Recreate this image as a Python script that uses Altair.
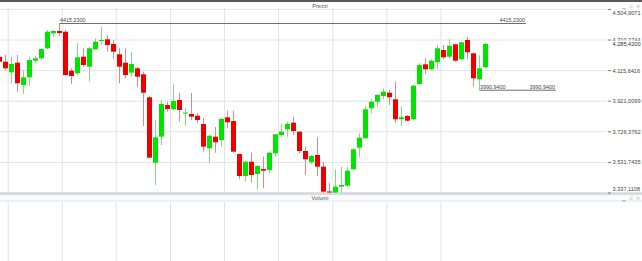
import altair as alt
import pandas as pd

# ---------------- data ----------------
opens = [4204.1, 4172.3, 4104.8, 4165.9, 4024.1, 4073.0, 4178.6, 4193.9, 4257.5, 4352.9,
         4367.5, 4363.1, 4115.0, 4098.5, 4204.1, 4140.5, 4251.2, 4303.9, 4314.8, 4284.9,
         4219.4, 4165.9, 4102.3, 4130.3, 4092.2, 3945.9, 3529.9, 3695.3, 3896.9, 3869.6,
         3928.7, 3842.8, 3839.7, 3828.8, 3776.1, 3621.5, 3695.3, 3674.3, 3818.7, 3795.1,
         3585.3, 3445.3, 3536.3, 3458.1, 3489.9, 3483.5, 3589.7, 3706.1, 3742.4, 3784.3,
         3727.1, 3604.3, 3532.5, 3578.9, 3504.5, 3347.0, 3340.0, 3377.3, 3383.6, 3488.0,
         3625.3, 3685.1, 3875.9, 3917.9, 3954.1, 3975.1, 3933.2, 3806.0, 3826.9, 3806.0,
         4030.4, 4155.8, 4124.0, 4168.5, 4246.7, 4204.1, 4283.0, 4187.6, 4310.3, 4225.7,
         4060.4, 4136.7]
highs = [4221.2, 4214.9, 4204.1, 4214.9, 4119.5, 4204.1, 4208.5, 4257.5, 4373.9, 4373.9,
         4415.23, 4373.9, 4130.3, 4289.3, 4257.5, 4267.7, 4321.1, 4394.9, 4342.1, 4310.3,
         4257.5, 4257.5, 4235.9, 4140.5, 4108.7, 3954.1, 3801.5, 3928.7, 3917.9, 4028.6,
         3975.1, 3877.8, 3973.2, 3846.0, 3814.2, 3706.1, 3757.0, 3814.2, 3860.6, 3860.6,
         3588.0, 3540.0, 3593.5, 3515.3, 3568.1, 3599.9, 3713.0, 3780.5, 3790.7, 3822.5,
         3730.0, 3631.7, 3578.9, 3691.5, 3536.3, 3402.7, 3488.0, 3504.5, 3504.5, 3621.5,
         3716.9, 3890.5, 3933.2, 3966.9, 4003.1, 3992.3, 4045.1, 3890.5, 3833.3, 4024.1,
         4162.1, 4193.9, 4187.6, 4278.5, 4278.5, 4314.8, 4286.0, 4299.5, 4331.3, 4229.5,
         4214.9, 4293.1]
lows = [4164.0, 4119.5, 4034.9, 3981.5, 3966.8, 4017.7, 4165.9, 4183.1, 4251.2, 4331.3,
        4335.7, 4084.5, 4030.4, 4087.7, 4140.5, 4045.1, 4246.7, 4278.5, 4235.9, 4187.6,
        4034.9, 4066.7, 4076.9, 4013.3, 3763.3, 3559.8, 3388.1, 3642.5, 3854.3, 3865.1,
        3790.7, 3763.3, 3801.5, 3782.4, 3599.9, 3526.1, 3593.5, 3631.7, 3748.7, 3593.5,
        3424.4, 3409.1, 3402.7, 3360.8, 3367.1, 3462.5, 3568.1, 3691.5, 3695.3, 3706.1,
        3589.7, 3451.7, 3519.8, 3445.3, 3339.1, 3338.0, 3338.0, 3339.0, 3377.3, 3483.5,
        3564.3, 3680.7, 3844.1, 3886.1, 3933.2, 3896.9, 3784.3, 3763.3, 3793.0, 3801.5,
        4024.1, 4092.2, 4119.5, 4125.9, 4187.6, 4193.9, 4172.3, 4183.1, 4189.4, 4013.3,
        3990.94, 4130.3]
closes = [4172.3, 4130.3, 4157.6, 4034.9, 4073.0, 4183.1, 4193.9, 4253.0, 4363.1, 4367.5,
          4354.8, 4087.7, 4081.3, 4200.3, 4151.3, 4257.5, 4299.5, 4310.3, 4278.5, 4235.9,
          4140.5, 4087.7, 4157.6, 4076.9, 3975.1, 3561.7, 3691.5, 3903.3, 3871.5, 3922.3,
          3865.1, 3849.2, 3822.5, 3801.5, 3631.7, 3701.6, 3659.7, 3807.9, 3786.9, 3599.9,
          3445.3, 3536.3, 3451.7, 3508.9, 3479.0, 3593.5, 3710.6, 3727.1, 3776.1, 3731.5,
          3604.3, 3551.5, 3572.5, 3504.5, 3345.5, 3340.5, 3377.3, 3388.1, 3479.0, 3615.2,
          3688.9, 3869.6, 3917.9, 3960.5, 3981.5, 3945.9, 3806.0, 3818.7, 3797.0, 4019.6,
          4151.3, 4124.0, 4178.6, 4257.5, 4200.3, 4274.0, 4178.6, 4295.7, 4232.1, 4066.7,
          4130.3, 4285.42]

y_ticks = [4504.9071, 4310.2744, 4115.6416, 3921.0099, 3726.3762, 3531.7435, 3337.1108]
y_labels = ["4.504,9071", "4.310,2744", "4.115,6416", "3.921,0099",
            "3.726,3762", "3.531,7435", "3.337,1108"]
last_price = 4285.42
last_label = "4.285,4200"

grid_idx = [1.45, 10.47, 19.45, 28.5, 37.5, 46.5, 55.55, 64.55, 73.58]

max_val, max_label, max_start, max_end = 4415.23, "4415,2300", 10, 87.75
min_val, min_label, min_start, min_end = 3990.94, "3990,9400", 80, 92.75

GREEN, RED = "#00e400", "#ee0000"
GREEN_W, RED_W = "#7fdc7f", "#dc8a8a"
FONT = "Liberation Sans"

# ---------------- tables ----------------
n = len(opens)
candles = pd.DataFrame({"i": list(range(n)), "o": opens, "h": highs, "l": lows, "c": closes})
candles["up"] = candles["c"] >= candles["o"]
candles["bc"] = candles["up"].map({True: GREEN, False: RED})
candles["wc"] = candles["up"].map({True: GREEN_W, False: RED_W})

ticks = pd.DataFrame({"v": y_ticks, "lab": y_labels})
grid = pd.DataFrame({"i": grid_idx})
lines = pd.DataFrame({"v": [max_val, min_val], "s": [max_start, min_start],
                      "e": [max_end, min_end], "lab": [max_label, min_label]})

XS = alt.Scale(domain=[0.5 / 6, 642.5 / 6], nice=False, zero=False)
YS = alt.Scale(domain=[2904.58, 4564.70], nice=False, zero=False)


def X(f):
    return alt.X(f, type="quantitative", scale=XS, axis=None)


def Y(f):
    return alt.Y(f, type="quantitative", scale=YS, axis=None)


# gridlines
vgrid = alt.Chart(grid).mark_rule(color="#e3e3e3", strokeWidth=1).encode(
    x=X("i"), y=alt.value(8), y2=alt.value(261))
hgrid = alt.Chart(ticks).mark_rule(color="#e3e3e3", strokeWidth=1).encode(
    y=Y("v"), x=alt.value(0), x2=alt.value(607))

# candles
wicks = alt.Chart(candles).mark_rule(strokeWidth=1).encode(
    x=X("i"), y=Y("l"), y2=alt.Y2("h"), color=alt.Color("wc:N", scale=None))
bodies = alt.Chart(candles).transform_calculate(
    x1="datum.i - 2.5/6", x2="datum.i + 2.5/6"
).mark_rect().encode(
    x=X("x1"), x2=alt.X2("x2"), y=Y("o"), y2=alt.Y2("c"),
    color=alt.Color("bc:N", scale=None))

# max / min annotation lines
hl = alt.Chart(lines).mark_rule(color="#6e6e6e", strokeWidth=1).encode(
    x=X("s"), x2=alt.X2("e"), y=Y("v"))
hl_l = alt.Chart(lines).mark_text(align="left", baseline="alphabetic", dy=-1.5, dx=0.5,
                                  font=FONT, fontSize=5.4, color="#444").encode(
    x=X("s"), y=Y("v"), text="lab:N")
hl_r = alt.Chart(lines).mark_text(align="right", baseline="alphabetic", dy=-1.5, dx=-1,
                                  font=FONT, fontSize=5.4, color="#444").encode(
    x=X("e"), y=Y("v"), text="lab:N")

# right axis labels
tick_marks = alt.Chart(ticks).mark_rule(color="#777", strokeWidth=1).encode(
    y=Y("v"), x=alt.value(608), x2=alt.value(611))
mid_labels = alt.Chart(ticks).transform_filter(
    "datum.v < 4500 && datum.v > 3400").mark_text(
    align="left", baseline="middle", font=FONT, fontSize=5.6, color="#444").encode(
    x=alt.value(612.5), y=Y("v"), text="lab:N")
top_label = alt.Chart(ticks).transform_filter("datum.v > 4500").mark_text(
    align="left", baseline="middle", dy=3.5, font=FONT, fontSize=5.6, color="#444").encode(
    x=alt.value(612.5), y=Y("v"), text="lab:N")
bot_label = alt.Chart(ticks).transform_filter("datum.v < 3400").mark_text(
    align="left", baseline="middle", dy=-3.5, font=FONT, fontSize=5.6, color="#444").encode(
    x=alt.value(612.5), y=Y("v"), text="lab:N")

last_df = pd.DataFrame({"v": [last_price], "lab": [last_label]})
last_bg = alt.Chart(last_df).mark_rect(color="white").encode(
    y=Y("v"), y2=alt.value(48.5), x=alt.value(611), x2=alt.value(642))
last_bg2 = alt.Chart(last_df).mark_rect(color="white").encode(
    y=alt.value(40.6), y2=alt.value(48.5), x=alt.value(611), x2=alt.value(642))
last_txt = alt.Chart(last_df).mark_text(
    align="left", baseline="middle", font=FONT, fontSize=5.6, color="#333").encode(
    x=alt.value(612.5), y=Y("v"), text="lab:N")

# frame decorations
deco = pd.DataFrame({"t": ["Prezzi", "Volumi"]})
top_bar = alt.Chart(deco).mark_rule(color="#5a5a5a", strokeWidth=2).encode(
    x=alt.value(0), x2=alt.value(642), y=alt.value(1))
sep = alt.Chart(deco).mark_rect(color="#d3dbe3").encode(
    x=alt.value(0), x2=alt.value(642), y=alt.value(192.5), y2=alt.value(195.3))
vol_band = alt.Chart(deco).mark_rect(color="#fbfbfb").encode(
    x=alt.value(0), x2=alt.value(642), y=alt.value(195.3), y2=alt.value(201))
vol_line = alt.Chart(deco).mark_rule(color="#e8edf2", strokeWidth=1).encode(
    x=alt.value(0), x2=alt.value(642), y=alt.value(201))
t_prezzi = alt.Chart(deco).transform_filter("datum.t == 'Prezzi'").mark_text(
    font=FONT, fontSize=5.6, color="#555", baseline="middle").encode(
    x=alt.value(320), y=alt.value(6), text="t:N")
t_volumi = alt.Chart(deco).transform_filter("datum.t == 'Volumi'").mark_text(
    font=FONT, fontSize=5.6, color="#555", baseline="middle").encode(
    x=alt.value(320), y=alt.value(198.3), text="t:N")
icons = pd.DataFrame({"t": ["\u2581", "\u25ab", "\u00d7"], "k": [0, 1, 2]})
icon_top = alt.Chart(icons).mark_text(font="DejaVu Sans", fontSize=5, color="#999",
                                      baseline="middle").encode(
    x=alt.X("k:Q", scale=alt.Scale(domain=[0, 2], range=[624, 638]), axis=None),
    y=alt.value(6), text="t:N")
icon_bot = alt.Chart(icons).mark_text(font="DejaVu Sans", fontSize=5, color="#999",
                                      baseline="middle").encode(
    x=alt.X("k:Q", scale=alt.Scale(domain=[0, 2], range=[624, 638]), axis=None),
    y=alt.value(198.3), text="t:N")

main = alt.layer(vgrid, hgrid, sep, vol_band, vol_line, wicks, bodies, hl, hl_l, hl_r,
                 tick_marks, mid_labels, top_label, bot_label, last_bg2, last_txt,
                 top_bar, t_prezzi, t_volumi)
icons_layer = alt.layer(icon_top, icon_bot)

chart = alt.layer(main, icons_layer).resolve_scale(x="independent").properties(
    width=642, height=261,
    autosize=alt.AutoSizeParams(type="none"),
    padding=0,
    background="white",
).configure_view(stroke=None)

chart.save("out.html", embed_options={"renderer": "svg", "actions": False})
